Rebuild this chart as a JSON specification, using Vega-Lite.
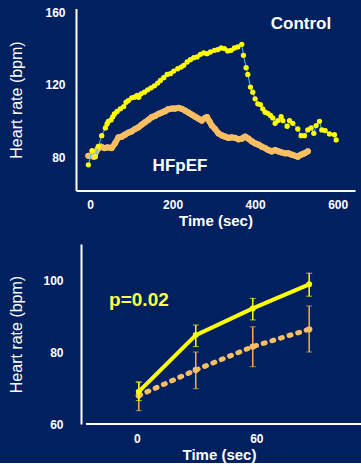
{
  "$schema": "https://vega.github.io/schema/vega-lite/v6.json",
  "background": "#002060",
  "padding": {"left": 8, "top": 5.5, "right": 0, "bottom": 0},
  "config": {
    "view": {"stroke": null},
    "font": "Liberation Sans",
    "axis": {
      "grid": false,
      "ticks": false,
      "domainColor": "#ffffff",
      "domainWidth": 2,
      "labelColor": "#ffffff",
      "labelFont": "Liberation Sans",
      "labelFontWeight": "bold",
      "labelFontSize": 12,
      "titleColor": "#ffffff",
      "titleFont": "Liberation Sans"
    },
    "concat": {"spacing": 15.5}
  },
  "datasets": {
    "top": [
      {"g": "Control", "t": -4, "hr": 76.1},
      {"g": "Control", "t": 4.8, "hr": 83.9},
      {"g": "Control", "t": 13, "hr": 80.6},
      {"g": "Control", "t": 20.2, "hr": 86.3},
      {"g": "Control", "t": 28.3, "hr": 92.1},
      {"g": "Control", "t": 37.2, "hr": 96.4},
      {"g": "Control", "t": 41.2, "hr": 98.6},
      {"g": "Control", "t": 44.4, "hr": 100},
      {"g": "Control", "t": 50.9, "hr": 100.8},
      {"g": "Control", "t": 55, "hr": 102.5},
      {"g": "Control", "t": 59, "hr": 104.1},
      {"g": "Control", "t": 65.5, "hr": 105.4},
      {"g": "Control", "t": 73.5, "hr": 106.9},
      {"g": "Control", "t": 81.6, "hr": 108.1},
      {"g": "Control", "t": 87.3, "hr": 110.5},
      {"g": "Control", "t": 92.9, "hr": 111.4},
      {"g": "Control", "t": 101, "hr": 112.9},
      {"g": "Control", "t": 107.5, "hr": 113.3},
      {"g": "Control", "t": 113.9, "hr": 114.2},
      {"g": "Control", "t": 118, "hr": 113.2},
      {"g": "Control", "t": 123.6, "hr": 115.1},
      {"g": "Control", "t": 131.7, "hr": 116},
      {"g": "Control", "t": 139.8, "hr": 117.3},
      {"g": "Control", "t": 147.9, "hr": 118.4},
      {"g": "Control", "t": 156, "hr": 119.5},
      {"g": "Control", "t": 164, "hr": 121},
      {"g": "Control", "t": 170.5, "hr": 122.5},
      {"g": "Control", "t": 178.6, "hr": 124},
      {"g": "Control", "t": 186.7, "hr": 125.8},
      {"g": "Control", "t": 194.7, "hr": 126.2},
      {"g": "Control", "t": 202.8, "hr": 127.6},
      {"g": "Control", "t": 212.5, "hr": 128.9},
      {"g": "Control", "t": 220.6, "hr": 129.8},
      {"g": "Control", "t": 227, "hr": 130.8},
      {"g": "Control", "t": 235.2, "hr": 132.6},
      {"g": "Control", "t": 243.2, "hr": 133.9},
      {"g": "Control", "t": 251.3, "hr": 135},
      {"g": "Control", "t": 259.4, "hr": 135.4},
      {"g": "Control", "t": 267.5, "hr": 136.8},
      {"g": "Control", "t": 275.6, "hr": 137.6},
      {"g": "Control", "t": 283.6, "hr": 137.2},
      {"g": "Control", "t": 291.7, "hr": 138.1},
      {"g": "Control", "t": 301.4, "hr": 139},
      {"g": "Control", "t": 309.5, "hr": 139.4},
      {"g": "Control", "t": 317.6, "hr": 140.3},
      {"g": "Control", "t": 325.7, "hr": 140},
      {"g": "Control", "t": 333.7, "hr": 138.7},
      {"g": "Control", "t": 341.8, "hr": 139},
      {"g": "Control", "t": 349.9, "hr": 140.3},
      {"g": "Control", "t": 358, "hr": 140.9},
      {"g": "Control", "t": 367.7, "hr": 142.3},
      {"g": "Control", "t": 371.7, "hr": 136.3},
      {"g": "Control", "t": 378.2, "hr": 129.5},
      {"g": "Control", "t": 382.2, "hr": 125.8},
      {"g": "Control", "t": 388.7, "hr": 118.8},
      {"g": "Control", "t": 394.3, "hr": 116},
      {"g": "Control", "t": 400, "hr": 112.4},
      {"g": "Control", "t": 406.5, "hr": 109.6},
      {"g": "Control", "t": 412.9, "hr": 109.2},
      {"g": "Control", "t": 418.6, "hr": 106.9},
      {"g": "Control", "t": 424.2, "hr": 105},
      {"g": "Control", "t": 430.7, "hr": 104.4},
      {"g": "Control", "t": 437.2, "hr": 103.2},
      {"g": "Control", "t": 442.8, "hr": 101.9},
      {"g": "Control", "t": 448.5, "hr": 98.9},
      {"g": "Control", "t": 455, "hr": 100.4},
      {"g": "Control", "t": 463, "hr": 102.6},
      {"g": "Control", "t": 467.1, "hr": 100.4},
      {"g": "Control", "t": 477.6, "hr": 97.3},
      {"g": "Control", "t": 483.3, "hr": 100.4},
      {"g": "Control", "t": 491.3, "hr": 98.9},
      {"g": "Control", "t": 503.4, "hr": 95.8},
      {"g": "Control", "t": 511.5, "hr": 92.1},
      {"g": "Control", "t": 519.6, "hr": 92.1},
      {"g": "Control", "t": 527.7, "hr": 95.3},
      {"g": "Control", "t": 535.8, "hr": 96.4},
      {"g": "Control", "t": 542.2, "hr": 93.4},
      {"g": "Control", "t": 547.9, "hr": 97.7},
      {"g": "Control", "t": 555.9, "hr": 100},
      {"g": "Control", "t": 561.6, "hr": 95.3},
      {"g": "Control", "t": 569.7, "hr": 94.9},
      {"g": "Control", "t": 580.2, "hr": 93.1},
      {"g": "Control", "t": 592.2, "hr": 92.7},
      {"g": "Control", "t": 596.4, "hr": 89.8},
      {"g": "HFpEF", "t": -4, "hr": 81.1},
      {"g": "HFpEF", "t": 2.4, "hr": 81.1},
      {"g": "HFpEF", "t": 8.9, "hr": 80.6},
      {"g": "HFpEF", "t": 18.6, "hr": 84.8},
      {"g": "HFpEF", "t": 26.7, "hr": 86.1},
      {"g": "HFpEF", "t": 34.7, "hr": 85.3},
      {"g": "HFpEF", "t": 42.8, "hr": 85.7},
      {"g": "HFpEF", "t": 52.5, "hr": 85.3},
      {"g": "HFpEF", "t": 60.6, "hr": 87.9},
      {"g": "HFpEF", "t": 68.7, "hr": 91.2},
      {"g": "HFpEF", "t": 76.8, "hr": 91.6},
      {"g": "HFpEF", "t": 84.8, "hr": 92.7},
      {"g": "HFpEF", "t": 92.9, "hr": 93.8},
      {"g": "HFpEF", "t": 101, "hr": 94.5},
      {"g": "HFpEF", "t": 109.1, "hr": 95.8},
      {"g": "HFpEF", "t": 117.2, "hr": 96.7},
      {"g": "HFpEF", "t": 125.3, "hr": 98.2},
      {"g": "HFpEF", "t": 133.3, "hr": 99.5},
      {"g": "HFpEF", "t": 141.4, "hr": 100.8},
      {"g": "HFpEF", "t": 149.5, "hr": 102.3},
      {"g": "HFpEF", "t": 157.6, "hr": 103},
      {"g": "HFpEF", "t": 165.7, "hr": 104.1},
      {"g": "HFpEF", "t": 173.7, "hr": 104.8},
      {"g": "HFpEF", "t": 181.8, "hr": 105.6},
      {"g": "HFpEF", "t": 189.9, "hr": 106.7},
      {"g": "HFpEF", "t": 198, "hr": 107},
      {"g": "HFpEF", "t": 206, "hr": 107},
      {"g": "HFpEF", "t": 214.1, "hr": 107.4},
      {"g": "HFpEF", "t": 222.2, "hr": 106.9},
      {"g": "HFpEF", "t": 230.3, "hr": 105.9},
      {"g": "HFpEF", "t": 238.4, "hr": 104.8},
      {"g": "HFpEF", "t": 246.5, "hr": 103.7},
      {"g": "HFpEF", "t": 254.5, "hr": 102.6},
      {"g": "HFpEF", "t": 262.6, "hr": 101.5},
      {"g": "HFpEF", "t": 270.7, "hr": 100.4},
      {"g": "HFpEF", "t": 278.8, "hr": 101.9},
      {"g": "HFpEF", "t": 283.6, "hr": 102.3},
      {"g": "HFpEF", "t": 289.3, "hr": 100},
      {"g": "HFpEF", "t": 295, "hr": 97.7},
      {"g": "HFpEF", "t": 303, "hr": 95.8},
      {"g": "HFpEF", "t": 311.1, "hr": 93.4},
      {"g": "HFpEF", "t": 319.2, "hr": 92.3},
      {"g": "HFpEF", "t": 327.3, "hr": 91.6},
      {"g": "HFpEF", "t": 335.4, "hr": 90.9},
      {"g": "HFpEF", "t": 343.4, "hr": 91.2},
      {"g": "HFpEF", "t": 351.5, "hr": 90.9},
      {"g": "HFpEF", "t": 359.6, "hr": 90.1},
      {"g": "HFpEF", "t": 367.7, "hr": 90.5},
      {"g": "HFpEF", "t": 375.8, "hr": 91.6},
      {"g": "HFpEF", "t": 383.8, "hr": 90.5},
      {"g": "HFpEF", "t": 391.9, "hr": 89},
      {"g": "HFpEF", "t": 400, "hr": 87.9},
      {"g": "HFpEF", "t": 408.1, "hr": 87.2},
      {"g": "HFpEF", "t": 416.2, "hr": 86.1},
      {"g": "HFpEF", "t": 424.2, "hr": 85.3},
      {"g": "HFpEF", "t": 432.3, "hr": 84.2},
      {"g": "HFpEF", "t": 440.4, "hr": 83.5},
      {"g": "HFpEF", "t": 448.5, "hr": 84.2},
      {"g": "HFpEF", "t": 456.6, "hr": 83.5},
      {"g": "HFpEF", "t": 464.6, "hr": 82.9},
      {"g": "HFpEF", "t": 472.7, "hr": 82.4},
      {"g": "HFpEF", "t": 480.8, "hr": 82.4},
      {"g": "HFpEF", "t": 488.9, "hr": 81.7},
      {"g": "HFpEF", "t": 497, "hr": 81.1},
      {"g": "HFpEF", "t": 503.4, "hr": 80.6},
      {"g": "HFpEF", "t": 511.5, "hr": 81.7},
      {"g": "HFpEF", "t": 519.6, "hr": 82.4},
      {"g": "HFpEF", "t": 527.7, "hr": 83.5}
    ],
    "toplabels": [
      {"label": "Control", "t": 511, "hr": 153.4},
      {"label": "HFpEF", "t": 218, "hr": 75.6}
    ],
    "bottom": [
      {"g": "HFpEF", "t": 1, "hr": 67.9, "lo": 63.7, "hi": 71.6},
      {"g": "HFpEF", "t": 29.6, "hr": 75, "lo": 69.8, "hi": 80},
      {"g": "HFpEF", "t": 58.2, "hr": 81.5, "lo": 75.9, "hi": 87},
      {"g": "HFpEF", "t": 86.5, "hr": 86.3, "lo": 80, "hi": 92.8},
      {"g": "Control", "t": 1, "hr": 69, "lo": 66.5, "hi": 71.7},
      {"g": "Control", "t": 29.6, "hr": 84.7, "lo": 81.5, "hi": 87.5},
      {"g": "Control", "t": 58.2, "hr": 92.1, "lo": 88.9, "hi": 94.9},
      {"g": "Control", "t": 86.5, "hr": 98.8, "lo": 95.5, "hi": 101.9}
    ],
    "bottomlabels": [
      {"label": "p=0.02", "t": -13.9, "hr": 94.4}
    ],
    "baseline": [
      {"from": -25.5, "to": 116, "hr": 60}
    ]
  },
  "vconcat": [
    {
      "width": 279,
      "height": 182,
      "data": {"name": "top"},
      "encoding": {
        "x": {"field": "t", "type": "quantitative",
          "scale": {"domain": [-34, 642], "nice": false, "zero": false},
          "axis": {"values": [0, 200, 400, 600], "labelPadding": 9, "title": "Time (sec)", "titleFontSize": 15, "titleFontWeight": "bold", "titlePadding": 3}},
        "y": {"field": "hr", "type": "quantitative",
          "scale": {"domain": [62, 162], "nice": false, "zero": false},
          "axis": {"values": [80, 120, 160], "labelPadding": 11, "title": "Heart rate (bpm)", "titleFontSize": 16, "titleFontWeight": "normal", "titlePadding": 20}}
      },
      "layer": [
        {"transform": [{"filter": "datum.g === 'HFpEF'"}],
          "mark": {"type": "line", "color": "#fbbf63", "strokeWidth": 6, "strokeJoin": "round", "strokeCap": "round"}},
        {"transform": [{"filter": "datum.g === 'HFpEF'"}],
          "mark": {"type": "circle", "color": "#fbbf63", "size": 38, "opacity": 1}},
        {"transform": [{"filter": "datum.g === 'Control'"}],
          "mark": {"type": "line", "color": "#3cc8f0", "strokeWidth": 1}},
        {"transform": [{"filter": "datum.g === 'Control'"}],
          "mark": {"type": "circle", "color": "#ffff00", "size": 28, "opacity": 1}},
        {"data": {"name": "toplabels"},
          "mark": {"type": "text", "color": "#ffffff", "font": "Liberation Sans", "fontWeight": "bold", "fontSize": 17, "align": "center", "baseline": "middle"},
          "encoding": {"text": {"field": "label"}}}
      ]
    },
    {
      "width": 286,
      "height": 180,
      "data": {"name": "bottom"},
      "encoding": {
        "x": {"field": "t", "type": "quantitative",
          "scale": {"domain": [-30.5, 113], "nice": false, "zero": false},
          "axis": {"values": [0, 60], "domain": false, "labelPadding": 9, "title": "Time (sec)", "titleFontSize": 15, "titleFontWeight": "bold", "titlePadding": 3}},
        "y": {"field": "hr", "type": "quantitative",
          "scale": {"domain": [60, 110], "nice": false, "zero": false},
          "axis": {"values": [60, 80, 100], "offset": -5, "labelPadding": 18, "title": "Heart rate (bpm)", "titleFontSize": 16, "titleFontWeight": "normal", "titlePadding": 18}}
      },
      "layer": [
        {"data": {"name": "baseline"},
          "mark": {"type": "rule", "color": "#ffffff", "strokeWidth": 2},
          "encoding": {"x": {"field": "from", "type": "quantitative"}, "x2": {"field": "to"}, "y": {"field": "hr", "type": "quantitative"}}},
        {"transform": [{"filter": "datum.g === 'HFpEF'"}],
          "mark": {"type": "errorbar", "ticks": {"color": "#f0b050", "size": 6}, "rule": {"color": "#f0b050", "strokeWidth": 1.5}},
          "encoding": {"y": {"field": "lo", "type": "quantitative"}, "y2": {"field": "hi"}}},
        {"transform": [{"filter": "datum.g === 'HFpEF'"}],
          "mark": {"type": "line", "color": "#fbbf63", "strokeWidth": 5, "strokeDash": [2, 7], "strokeCap": "round"}},
        {"transform": [{"filter": "datum.g === 'HFpEF'"}],
          "mark": {"type": "circle", "color": "#fbbf63", "size": 40, "opacity": 1}},
        {"transform": [{"filter": "datum.g === 'Control'"}],
          "mark": {"type": "errorbar", "ticks": {"color": "#ffff00", "size": 6}, "rule": {"color": "#ffff00", "strokeWidth": 1.5}},
          "encoding": {"y": {"field": "lo", "type": "quantitative"}, "y2": {"field": "hi"}}},
        {"transform": [{"filter": "datum.g === 'Control'"}],
          "mark": {"type": "line", "color": "#ffff00", "strokeWidth": 4}},
        {"transform": [{"filter": "datum.g === 'Control'"}],
          "mark": {"type": "circle", "color": "#ffff00", "size": 35, "opacity": 1}},
        {"data": {"name": "bottomlabels"},
          "mark": {"type": "text", "color": "#ffff4d", "font": "Liberation Sans", "fontWeight": "bold", "fontSize": 19, "align": "left", "baseline": "middle"},
          "encoding": {"text": {"field": "label"}}}
      ]
    }
  ]
}
